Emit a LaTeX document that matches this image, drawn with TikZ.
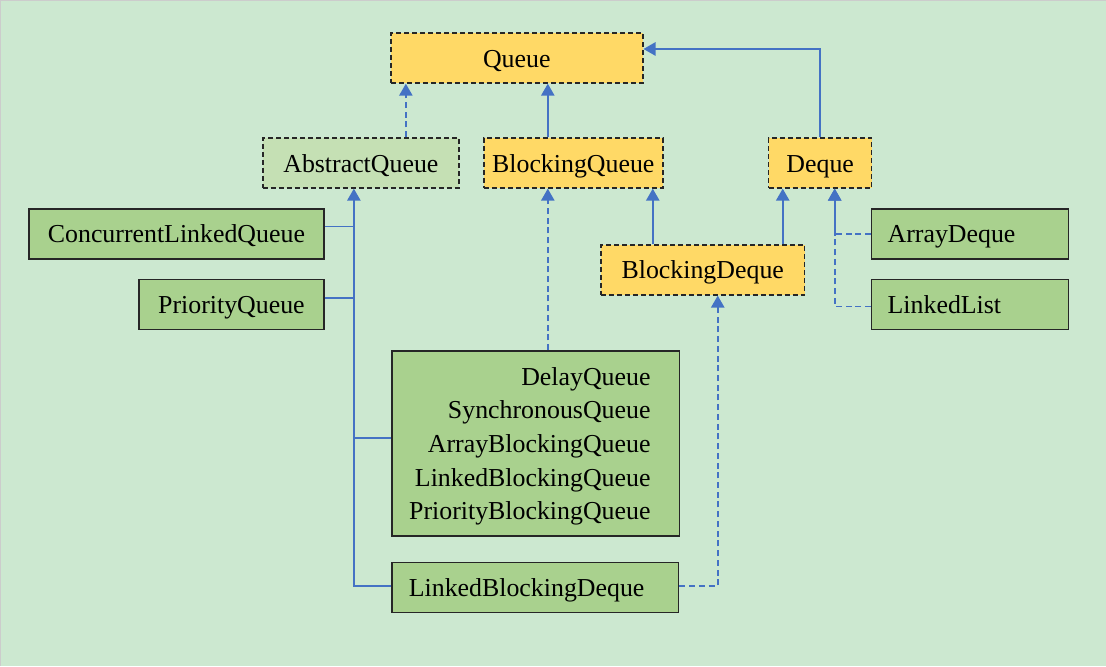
\documentclass[tikz,border=0pt]{standalone}
\usepackage{fontspec}
\setmainfont{Liberation Serif}
\usetikzlibrary{arrows.meta}
\definecolor{bgc}{HTML}{CCE8D0}
\definecolor{ifc}{HTML}{FFD966}
\definecolor{absc}{HTML}{C5E0B4}
\definecolor{clsc}{HTML}{A9D18E}
\definecolor{linec}{HTML}{4472C4}
\tikzset{
  box/.style={draw=black!85, line width=1.1pt, minimum height=50*0.75pt, inner sep=0pt,
              text height=13.6pt, text depth=0pt, font=\fontsize{19.4}{25.3}\selectfont},
  ibox/.style={box, fill=ifc, dash pattern=on 3.8pt off 2.2pt},
  abox/.style={box, fill=absc, dash pattern=on 3.8pt off 2.2pt},
  cbox/.style={box, fill=clsc},
  conn/.style={draw=linec, line width=1.2pt},
  dconn/.style={conn, dash pattern=on 4.5pt off 2.8pt},
  tip/.style={-{Triangle[width=10pt,length=9pt]}},
}
\begin{document}
\begin{tikzpicture}[x=0.75pt,y=-0.75pt]
\fill[bgc] (0,0) rectangle (1106,666);
\draw[gray!40, line width=0.6pt] (0.4,666) -- (0.4,0.4) -- (1106,0.4);
\useasboundingbox (0,0) rectangle (1106,666);

% interface / abstract boxes
\node[ibox, minimum width=252*0.75pt] (queue) at (517,58) {Queue};
\node[abox, minimum width=196*0.75pt] (aq) at (361,163) {AbstractQueue};
\node[ibox, minimum width=179*0.75pt] (bq) at (573.5,163) {BlockingQueue};
\node[ibox, minimum width=103*0.75pt] (dq) at (820.5,163) {Deque};
\node[ibox, minimum width=204*0.75pt] (bd) at (703,270) {BlockingDeque};

% classes
\node[cbox, minimum width=295*0.75pt] (clq) at (176.5,234) {ConcurrentLinkedQueue};
\node[cbox, minimum width=185*0.75pt] (pq) at (231.5,304.5) {PriorityQueue};
\node[cbox, minimum width=197*0.75pt, inner xsep=16*0.75pt, text width=165*0.75pt, align=left] (ad) at (970.5,234) {ArrayDeque};
\node[cbox, minimum width=197*0.75pt, inner xsep=16*0.75pt, text width=165*0.75pt, align=left] (ll) at (970.5,304.5) {LinkedList};
\node[cbox, minimum width=288*0.75pt, minimum height=185*0.75pt] (big) at (536,443.5) {};
\node[font=\fontsize{19.4}{25.3}\selectfont, align=right, inner sep=0pt, anchor=east] (bigtext) at (651,446.5)
  {DelayQueue\\SynchronousQueue\\ArrayBlockingQueue\\LinkedBlockingQueue\\PriorityBlockingQueue};
\node[cbox, minimum width=287*0.75pt, inner xsep=17*0.75pt, text width=253*0.75pt, align=left] (lbd) at (535.5,587.5) {LinkedBlockingDeque};

% helper columns / rows
\coordinate (xa) at (406,0);
\coordinate (xb) at (548,0);
\coordinate (xc) at (653,0);
\coordinate (xd) at (783,0);
\coordinate (xe) at (835,0);
\coordinate (xf) at (718,0);
\coordinate (xbus) at (354,0);
\coordinate (ytop) at (0,49);

% connectors
\draw[dconn, tip] (aq.north -| xa) -- (queue.south -| xa);
\draw[conn, tip] (bq.north -| xb) -- (queue.south -| xb);
\draw[conn, tip] (dq.north) |- (queue.east |- ytop);
\draw[conn, tip] (bd.north -| xc) -- (bq.south -| xc);
\draw[conn, tip] (bd.north -| xd) -- (dq.south -| xd);
\draw[dconn, tip] (ad.west) -| (dq.south -| xe);
\draw[dconn, tip] ([yshift=-1.5pt]ll.west) -| (dq.south -| xe);
\draw[dconn, tip] (big.north -| xb) -- (bq.south -| xb);
\draw[dconn, tip] ([yshift=1pt]lbd.east) -| (bd.south -| xf);
\draw[conn, tip] ([yshift=1pt]lbd.west) -| (aq.south -| xbus);
\draw[conn] ([yshift=5.5pt]clq.east) -- ([yshift=5.5pt]clq.east -| xbus);
\draw[conn] ([yshift=5pt]pq.east) -- ([yshift=5pt]pq.east -| xbus);
\draw[conn] ([yshift=4pt]big.west) -- ([yshift=4pt]big.west -| xbus);
\end{tikzpicture}
\end{document}
